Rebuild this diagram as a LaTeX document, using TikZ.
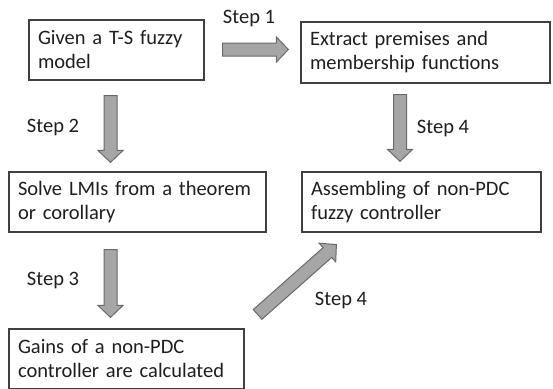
\documentclass[tikz,border=0pt]{standalone}
\usepackage{fontspec}
\setmainfont{Carlito}
\usetikzlibrary{calc}

\definecolor{arrowfill}{RGB}{166,166,166}
\definecolor{arrowline}{RGB}{105,105,105}
\definecolor{boxline}{RGB}{64,64,64}
\definecolor{textgray}{RGB}{30,30,30}

\tikzset{
  stepbox/.style={draw=boxline, line width=1.2pt, align=left, inner xsep=9pt,
    minimum height=60pt, text=textgray, font=\fontsize{20.5}{24}\selectfont},
  steplabel/.style={text=textgray, font=\fontsize{20.5}{24}\selectfont},
  fatarrow/.style={fill=arrowfill, draw=arrowline, line width=1pt, line join=miter}
}

% block arrow from #1 (tail) to #2 (tip)
\newcommand{\blockarrow}[2]{%
  \coordinate (h) at ($(#2)!12pt!(#1)$);
  \filldraw[fatarrow] ($(#1)!6.5pt!90:(#2)$) -- ($(h)!6.5pt!-90:(#1)$)
    -- ($(h)!12.5pt!-90:(#1)$) -- (#2) -- ($(h)!12.5pt!90:(#1)$)
    -- ($(h)!6.5pt!90:(#1)$) -- ($(#1)!6.5pt!-90:(#2)$) -- cycle;}

\begin{document}
\begin{tikzpicture}[x=1pt,y=1pt]
  \useasboundingbox (0,0) rectangle (553,-388);

  \node[stepbox, text width=157pt] (given)   at (116.5,-50)  {Given a T-S fuzzy\\model};
  \node[stepbox, text width=231pt, minimum height=61pt] (extract) at (425.5,-52.5)
    {Extract premises and\\membership functions};
  \node[stepbox, text width=239pt] (solve)   at (137.5,-202) {Solve LMIs from a theorem\\or corollary};
  \node[stepbox, text width=221pt] (assem)   at (421.5,-202) {Assembling of non-PDC\\fuzzy controller};
  \node[stepbox, text width=217pt] (gains)   at (126.5,-359) {Gains of a non-PDC\\controller are calculated};

  \coordinate (s1a) at ($(given.east)+(18pt,0.5pt)$);
  \coordinate (s1b) at ($(extract.west|-s1a)+(-12pt,0)$);
  \coordinate (s2a) at ($(given.south)+(-6pt,-15pt)$);
  \coordinate (s2b) at ($(s2a|-solve.north)+(0,9pt)$);
  \coordinate (s3a) at ($(s2a|-solve.south)+(0,-17pt)$);
  \coordinate (s3b) at ($(s3a|-gains.north)+(0,11pt)$);
  \coordinate (s4a) at ($(extract.south)+(-25.5pt,-11pt)$);
  \coordinate (s4b) at ($(s4a|-assem.north)+(0,10pt)$);
  \coordinate (s5a) at ($(gains.north east)+(13pt,14pt)$);
  \coordinate (s5b) at ($(assem.south west)+(35pt,-12pt)$);

  \blockarrow{s1a}{s1b}
  \blockarrow{s2a}{s2b}
  \blockarrow{s3a}{s3b}
  \blockarrow{s4a}{s4b}
  \blockarrow{s5a}{s5b}

  \node[steplabel] (l1)  at (249,-18)  {Step 1};
  \node[steplabel] (l2)  at (53,-127)  {Step 2};
  \node[steplabel] (l3)  at (53,-280)  {Step 3};
  \node[steplabel] (l4)  at (443,-128) {Step 4};
  \node[steplabel] (l4b) at (341,-300) {Step 4};
\end{tikzpicture}
\end{document}
